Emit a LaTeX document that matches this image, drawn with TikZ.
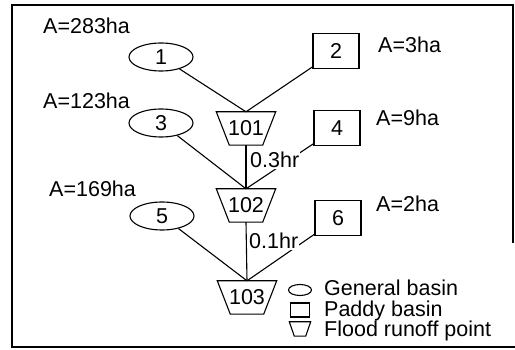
\documentclass[tikz,border=0pt]{standalone}
\usepackage{fontspec}
\setmainfont{Liberation Sans}
\usetikzlibrary{shapes.geometric}
\begin{document}
\begin{tikzpicture}[x=1pt,y=-1pt,
  every node/.style={font=\fontsize{21.5}{24}\selectfont, inner sep=0pt},
  basin/.style={draw, ellipse, minimum width=64pt, minimum height=28pt, line width=1.1pt},
  paddy/.style={draw, rectangle, minimum width=46pt, minimum height=35pt, line width=1.1pt},
  runoff/.style={rectangle, minimum width=59pt, minimum height=33pt},
  area/.style={anchor=west},
  lag/.style={fill=white, inner sep=1pt, anchor=west},
  legendtext/.style={anchor=base west},
  link/.style={line width=1.1pt}]
\useasboundingbox (0,0) rectangle (515,350);

% frame
\draw[line width=1.8pt] (513,243) -- (513,5) -- (12,5) -- (12,347) -- (515,347);

% basins
\node[basin] (b1) at (161,57) {1};
\node[paddy] (b2) at (336,51) {2};
\node[basin] (b3) at (161,123) {3};
\node[paddy] (b4) at (337,128) {4};
\node[basin] (b5) at (162,216) {5};
\node[paddy] (b6) at (338,218) {6};

% flood runoff points
\node[runoff] (p101) at (246,128.5) {101};
\node[runoff] (p102) at (246,205.5) {102};
\node[runoff] (p103) at (247,297.5) {103};
\foreach \p in {p101,p102,p103}
  \draw[link] (\p.north west) -- (\p.north east) -- ([xshift=-13pt]\p.south east)
    -- ([xshift=13pt]\p.south west) -- cycle;

% connections
\draw[link] (b1) -- (p101.north);
\draw[link] (b2) -- (p101.north);
\draw[link] (b3) -- (p102.north);
\draw[link] (b4) -- (p102.north);
\draw[link] (p101.south) -- (p102.north);
\draw[link] (b5) -- (p103.north);
\draw[link] (b6) -- (p103.north);
\draw[link] (p102.south) -- (p103.north);

% lag times
\node[lag] (t1) at (249,160) {0.3hr};
\node[lag] (t2) at (248,241) {0.1hr};

% catchment areas
\node[area] (a1) at (43,26) {A=283ha};
\node[area] (a2) at (378,45) {A=3ha};
\node[area] (a3) at (43,101) {A=123ha};
\node[area] (a4) at (376,118) {A=9ha};
\node[area] (a5) at (49,189) {A=169ha};
\node[area] (a6) at (376,204) {A=2ha};

% legend
\node[draw, ellipse, minimum width=23pt, minimum height=11pt, line width=1.1pt] (k1) at (300,290) {};
\node[legendtext] (k1t) at (324,296) {General basin};
\node[draw, minimum width=19pt, minimum height=14pt, line width=1.1pt] (k2) at (300,310) {};
\node[legendtext] (k2t) at (324,317) {Paddy basin};
\node[minimum width=21pt, minimum height=14pt] (k3) at (300,329) {};
\draw[link] (k3.north west) -- (k3.north east) -- ([xshift=-5pt]k3.south east)
  -- ([xshift=5pt]k3.south west) -- cycle;
\node[legendtext] (k3t) at (324,337) {Flood runoff point};
\end{tikzpicture}
\end{document}
